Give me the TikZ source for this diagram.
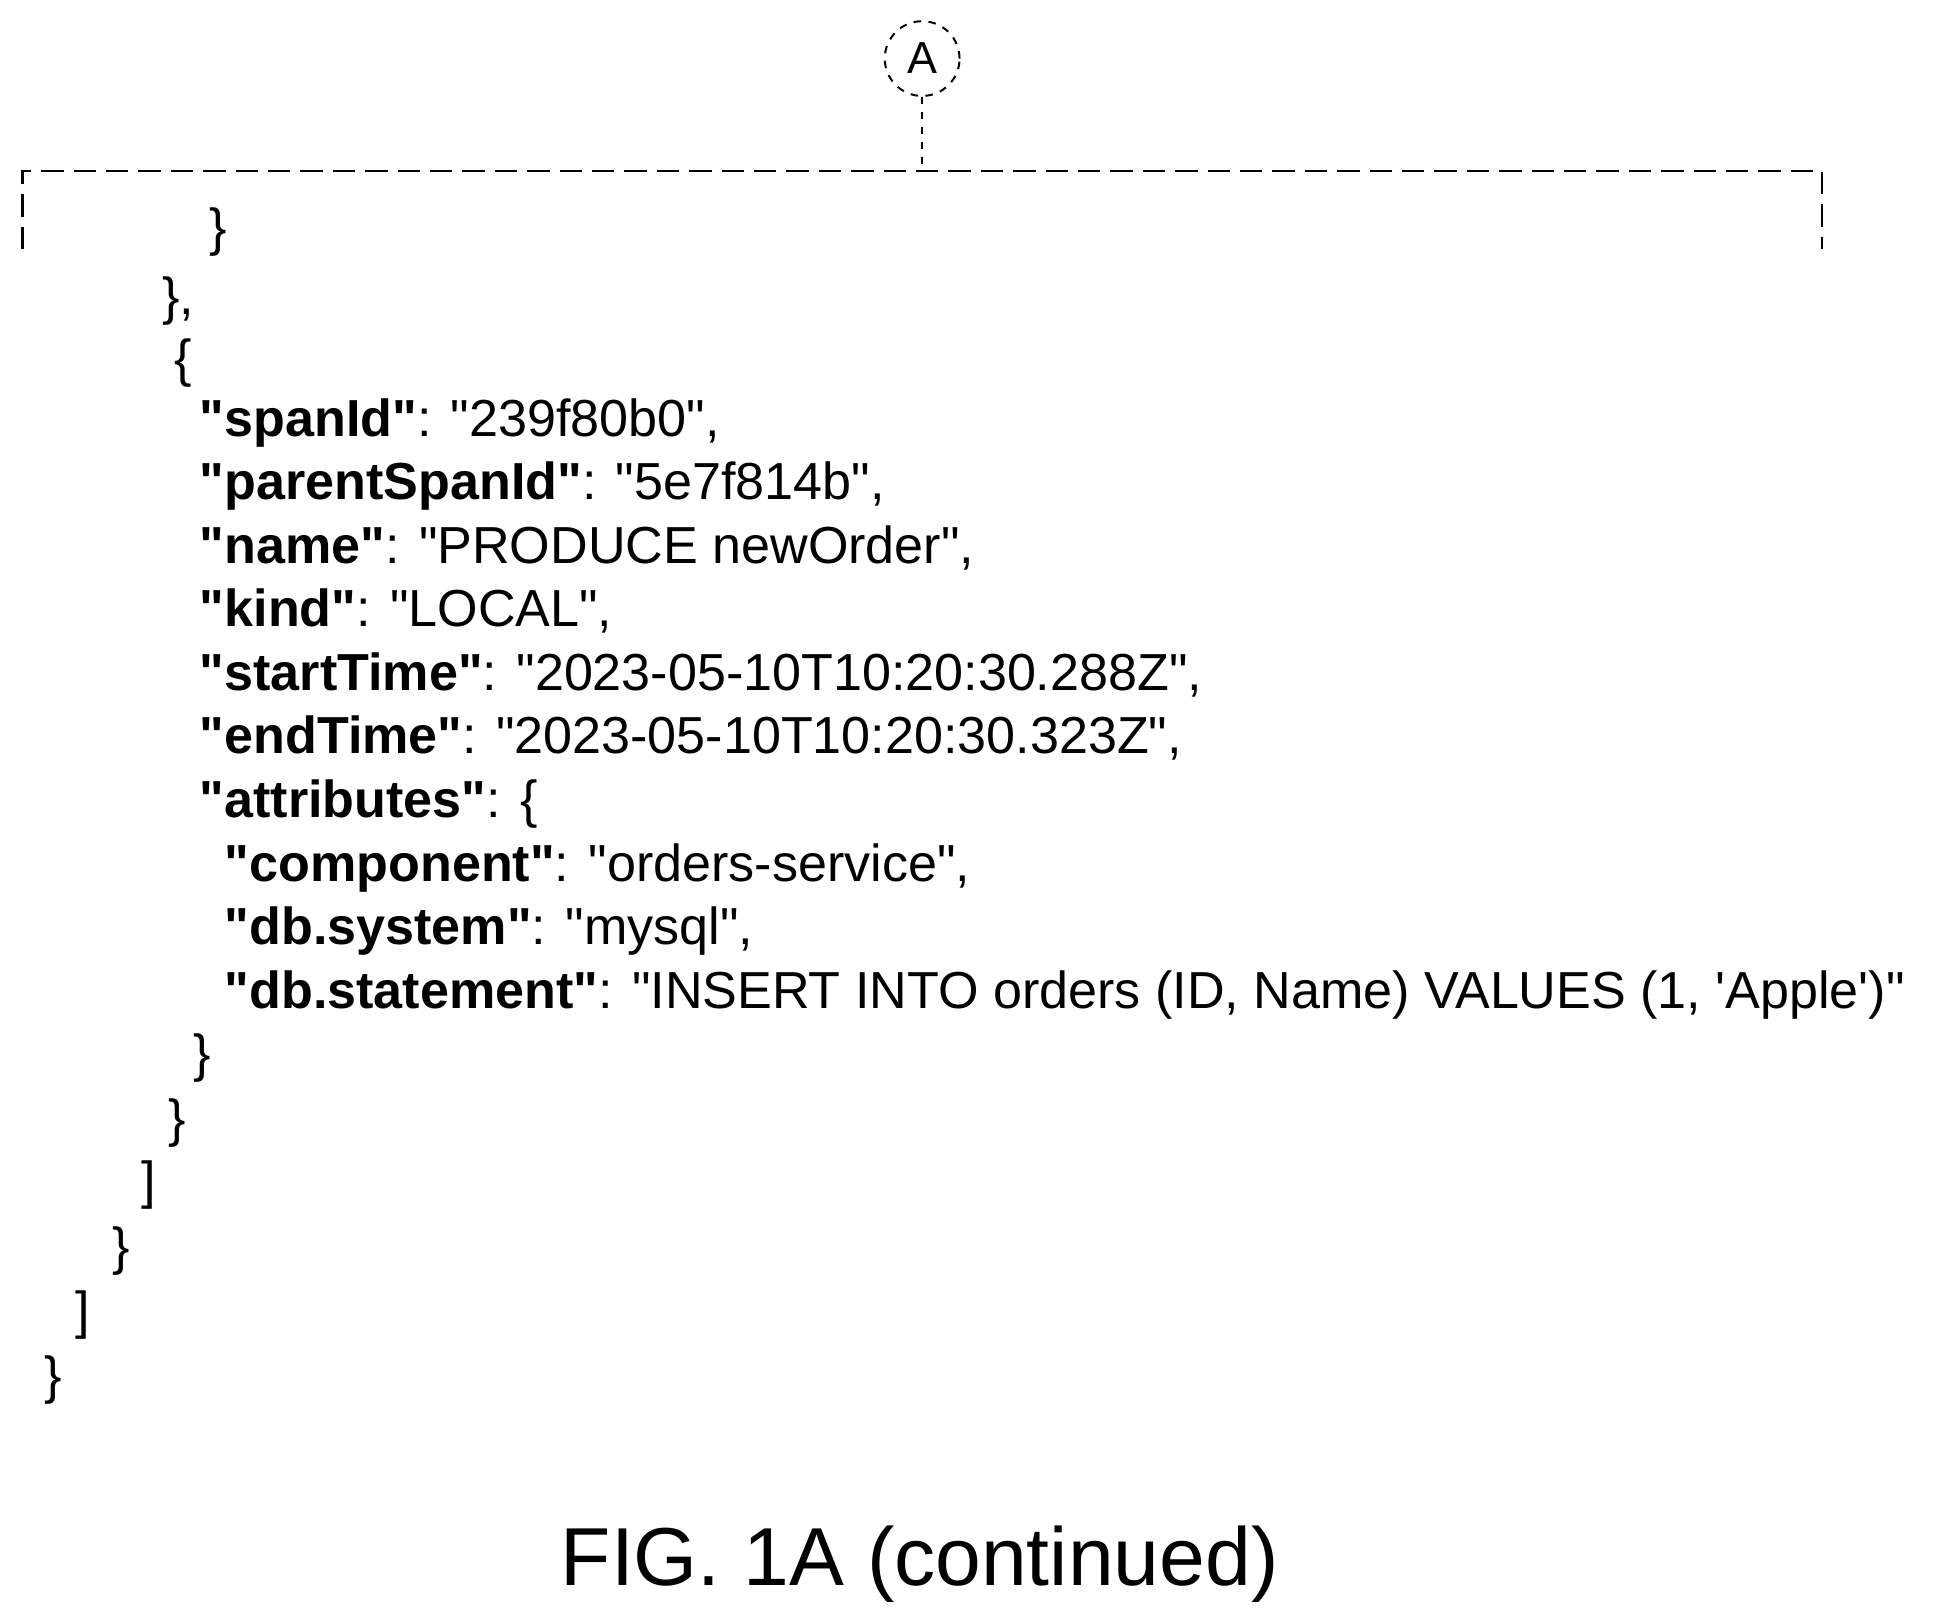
\documentclass[tikz,border=0pt]{standalone}
\usepackage{fontspec}
\setmainfont{Liberation Sans}
\newfontfamily\codefont{Liberation Sans}
\begin{document}
\begin{tikzpicture}[x=0.5pt,y=-0.5pt,
  code/.style={anchor=base west,inner sep=0,font=\codefont\fontsize{20.9pt}{24pt}\selectfont},
  brk/.style={draw,dashed,dash pattern=on 9pt off 4pt,line width=0.9pt}]
\useasboundingbox (0,0) rectangle (1560,1300);
\node[draw,circle,dashed,line width=0.8pt,minimum size=30pt,inner sep=0,font=\fontsize{18pt}{20pt}\selectfont] (A) at (740,47) {A};
\coordinate (T) at (740,137);
\draw[dashed,line width=0.8pt] (A.south) -- (T);
\coordinate (L) at (18,200); \coordinate (R) at (1462,200);
\draw[brk] (L) -- (18,137) -- (1462,137) -- (R);
\node[code] (l1) at (168,197) {\}};
\node[code] (l2) at (130,252) {\},};
\node[code] (l3) at (140,302) {\{};
\node[code] (l4) at (160,350) {\textbf{"spanId"}: "239f80b0",};
\node[code] (l5) at (160,401) {\textbf{"parentSpanId"}: "5e7f814b",};
\node[code] (l6) at (160,452) {\textbf{"name"}: "PRODUCE newOrder",};
\node[code] (l7) at (160,503) {\textbf{"kind"}: "LOCAL",};
\node[code] (l8) at (160,554) {\textbf{"startTime"}: "2023-05-10T10:20:30.288Z",};
\node[code] (l9) at (160,605) {\textbf{"endTime"}: "2023-05-10T10:20:30.323Z",};
\node[code] (l10) at (160,656) {\textbf{"attributes"}: \{};
\node[code] (l11) at (180,707) {\textbf{"component"}: "orders-service",};
\node[code] (l12) at (180,758) {\textbf{"db.system"}: "mysql",};
\node[code] (l13) at (180,809) {\textbf{"db.statement"}: "INSERT INTO orders (ID, Name) VALUES (1, 'Apple')"};
\node[code] (l14) at (155,860) {\}};
\node[code] (l15) at (135,912) {\}};
\node[code] (l16) at (113,962) {]};
\node[code] (l17) at (90,1015) {\}};
\node[code] (l18) at (60,1066) {]};
\node[code] (l19) at (35,1118) {\}};
\node[anchor=base,inner sep=0,font=\fontsize{33pt}{36pt}\selectfont] (fig) at (738,1272) {FIG. 1A (continued)};
\end{tikzpicture}
\end{document}
